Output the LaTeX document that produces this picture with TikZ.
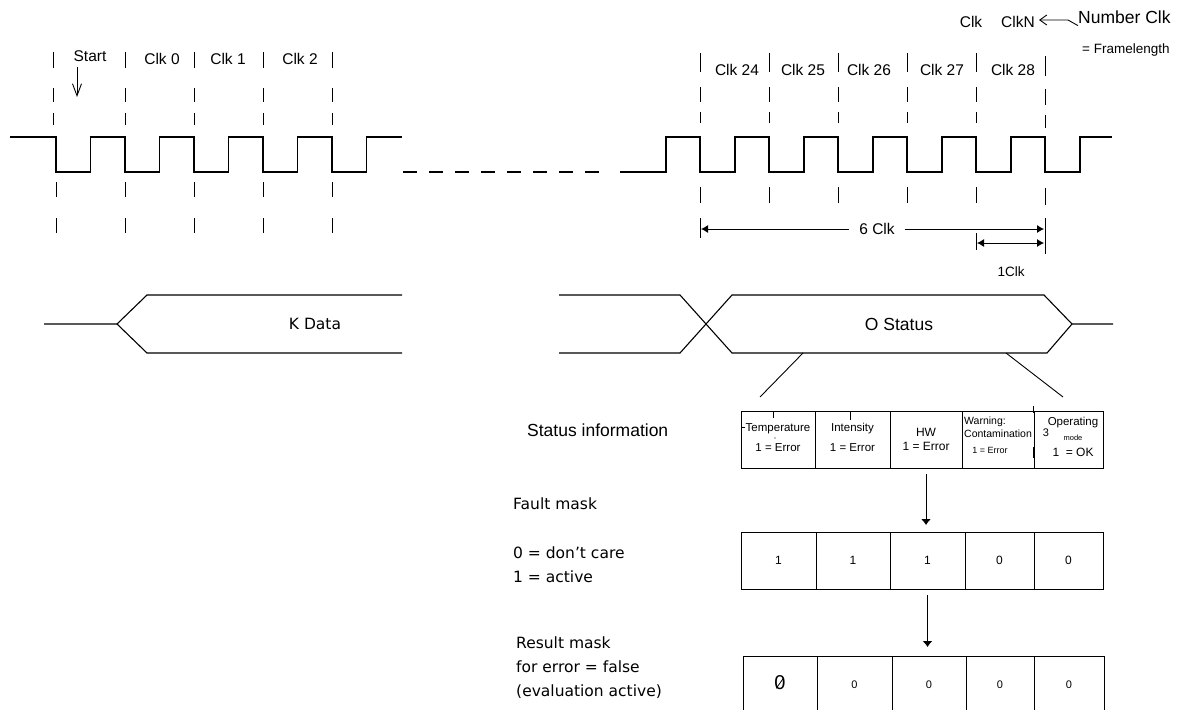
\documentclass[tikz,border=0pt]{standalone}
\usepackage{fontspec}
\setmainfont{Liberation Sans}
\newfontfamily\dejavu{DejaVu Sans}
\usetikzlibrary{arrows.meta, positioning, calc}
\tikzset{
	wave/.style     ={line width=1.1pt},
	gridtick/.style ={line width=0.9pt},
	cell/.style     ={rectangle, draw=black, line width=1pt, minimum height=57pt, inner sep=0pt, outer sep=0pt, anchor=west},
	clklabel/.style ={font=\fontsize{15.5}{18}\selectfont},
	celltext/.style ={font=\fontsize{11.5}{20}\selectfont, align=center, inner sep=0pt},
	sidetext/.style ={font=\dejavu\fontsize{15.5}{24}\selectfont, anchor=west, align=left, inner sep=0pt},
	dimarrow/.style ={{Latex[length=7pt,width=8pt]}-{Latex[length=7pt,width=8pt]}, line width=0.9pt},
	halfarrow/.style={-{Latex[length=7pt,width=8pt]}, line width=0.9pt},
	downarrow/.style={-{Latex[length=6pt,width=10pt]}, line width=1pt},
	barb/.style     ={-{Straight Barb[length=12pt,width=9pt]}, line width=0.9pt},
	smallbarb/.style={-{Straight Barb[length=7pt,width=10pt]}, line width=0.9pt},
}
\begin{document}
\begin{tikzpicture}[x=1pt, y=-1pt]
	\useasboundingbox (0,0) rectangle (1185,709);
	% clock signal
	\draw[wave] (10,137) foreach \k in {0,...,4} { -- ({56+69*\k},137) -- ({56+69*\k},172) -- ({90.5+69*\k},172) -- ({90.5+69*\k},137) } -- (402,137);
	\draw[wave, dash pattern=on 14pt off 12pt] (403,172) -- (600,172);
	\draw[wave] (620,172) foreach \k in {0,...,5} { -- ({666+69*\k},172) -- ({666+69*\k},137) -- ({700+69*\k},137) -- ({700+69*\k},172) } -- (1080,172) -- (1080,137) -- (1112,137);
	% clock boundaries
	\foreach \x in {53,125,194,263,332} \foreach \a/\b in {52/68,88/102,113/125} \draw[gridtick] (\x,\a) -- (\x,\b);
	\foreach \x in {56,125,194,263,332} \foreach \a/\b in {182/197,218/233} \draw[gridtick] (\x,\a) -- (\x,\b);
	\foreach \x in {700,769,838,907,976} \foreach \a/\b in {53/72,87/102,112/123,187/203} \draw[gridtick] (\x,\a) -- (\x,\b);
	\foreach \a/\b in {56/76,89/105,115/128,188/205} \draw[gridtick] (1045,\a) -- (1045,\b);
	\draw[gridtick] (700,218) -- (700,238);
	\draw[gridtick] (976,233) -- (976,250);
	\draw[gridtick] (1045,218) -- (1045,254);
	% clock labels
	\node[clklabel] (lstart) at (90,56) {Start};
	\foreach \n/\x in {0/162,1/228,2/300} \node[clklabel] (lclk\n) at (\x,59) {Clk \n};
	\foreach \n/\x in {24/737,25/803,26/869,27/942,28/1013} \node[clklabel] (lclk\n) at (\x,70) {Clk \n};
	\coordinate (startend) at (77,97);
	\draw[barb] ([yshift=-2pt]lstart.south -| startend) -- (startend);
	% frame length
	\node[clklabel] (ltopclk) at (971,22) {Clk};
	\node[clklabel, inner sep=1pt] (ltopclkn) at (1018,22) {ClkN};
	\node[font=\fontsize{17.5}{20}\selectfont, anchor=west, inner sep=0pt] (numclk) at (1078,17) {Number Clk};
	\node[font=\fontsize{13.5}{16}\selectfont, anchor=west, inner sep=0pt] (framelen) at (1082,50) {= Framelength};
	\coordinate (nbend) at (1068,20);
	\draw[smallbarb] ([yshift=-2pt]numclk.south west) -- (nbend) -- ([xshift=3pt]nbend -| ltopclkn.east);
	% dimensions
	\coordinate (d24) at (701,229);
	\coordinate (dN) at (1044,229);
	\coordinate (d28) at (977,243);
	\coordinate (dN2) at (1044,243);
	\node[clklabel, inner xsep=10pt] (lsix) at (877,229) {6 Clk};
	\draw[halfarrow] (lsix.west) -- (d24);
	\draw[halfarrow] (lsix.east) -- (dN);
	\draw[dimarrow] (d28) -- (dN2);
	\node[font=\fontsize{13.5}{16}\selectfont] (lone) at (1011,272) {1Clk};
	% data bus
	\node[font=\dejavu\fontsize{15.5}{18}\selectfont] (kdata) at (315,324) {K Data};
	\draw[wave] (44,324) -- (117,324) -- (147,295) -- (402,295);
	\draw[wave] (117,324) -- (147,353) -- (402,353);
	\node[font=\fontsize{17.5}{20}\selectfont] (ostatus) at (899,324) {O Status};
	\draw[wave] (559,295) -- (680,295) -- (732,353) -- (1047,353) -- (1072,324) -- (1113,324);
	\draw[wave] (559,353) -- (680,353) -- (732,295) -- (1044,295) -- (1072,324);
	\draw[gridtick] (803,353) -- (760,397);
	\draw[gridtick] (1006,353) -- (1063,397);
	% status information
	\foreach \n/\x/\w in {1/741/74,2/815/75,3/890/72,4/962/72,5/1034/69} \node[cell, minimum width=\w pt] (st\n) at (\x,439.5) {};
	\node[celltext] (ttemp) at ([yshift=2pt]st1) {Temperature\\1 = Error};
	\node[celltext] (tint) at ([yshift=2pt]st2) {Intensity\\1 = Error};
	\node[celltext, font=\fontsize{12}{14}\selectfont] (thw) at (st3) {HW\\1 = Error};
	\node[font=\fontsize{10.5}{13}\selectfont, anchor=north west, align=left, inner sep=0pt] (twarn) at (964,417) {Warning:\\Contamination};
	\node[font=\fontsize{9}{10}\selectfont, inner sep=0pt] (twerr) at (990,450) {1 = Error};
	\node[font=\fontsize{11.5}{13}\selectfont, inner sep=0pt] (toper) at (1073,423) {Operating};
	\node[font=\fontsize{7.5}{9}\selectfont, inner sep=0pt] (tmode) at (1073,438) {mode};
	\node[font=\fontsize{12}{14}\selectfont, inner sep=0pt] (tok) at (1073,452) {1 \ = OK};
	\node[font=\fontsize{11}{13}\selectfont, inner sep=0pt] (tthree) at (1046,433) {3};
	\draw[gridtick] (773,411) -- (773,418);
	\draw[gridtick] (850,411) -- (850,420);
	\draw[gridtick] (1033,406) -- (1033,413);
	\draw[gridtick] (1033,447) -- (1033,458);
	\draw[gridtick] (741,427) -- (745,427);
	\fill (775,438) circle (0.6);
	% fault mask
	\foreach \n/\x/\w/\v in {1/741/75/1,2/816/74/1,3/890/75/1,4/965/69/0,5/1034/69/0} \node[cell, minimum width=\w pt, font=\fontsize{12}{14}\selectfont] (fm\n) at (\x,560.5) {\v};
	% result mask
	\foreach \n/\x/\w/\v in {1/743/74/{},2/817/75/0,3/892/74/0,4/966/68/0,5/1034/70/0} \node[cell, minimum width=\w pt, font=\fontsize{11}{13}\selectfont] (rm\n) at (\x,684.5) {\v};
	\node[font=\fontsize{20}{22}\selectfont, inner sep=0pt] (rzero) at (780,683) {0};
	\draw[line width=0.8pt] ([shift={(2pt,2pt)}]rzero.south west) -- ([shift={(-2pt,-2pt)}]rzero.north east);
	\draw[downarrow, shorten <=6pt, shorten >=7pt] (st3.south) -- (st3.south |- fm3.north);
	\draw[downarrow, shorten <=6pt, shorten >=9pt] (fm3.south) -- (fm3.south |- rm3.north);
	% side texts
	\node[font=\fontsize{17.5}{20}\selectfont, anchor=west, inner sep=0pt] (lstatus) at (527,430) {Status information};
	\node[sidetext] (lfault) at (513,504) {Fault mask};
	\node[sidetext] (lcode) at (513,565) {0 = don’t care\\1 = active};
	\node[sidetext] (lresult) at (516,667.5) {Result mask\\for error = false\\(evaluation active)};
\end{tikzpicture}
\end{document}
